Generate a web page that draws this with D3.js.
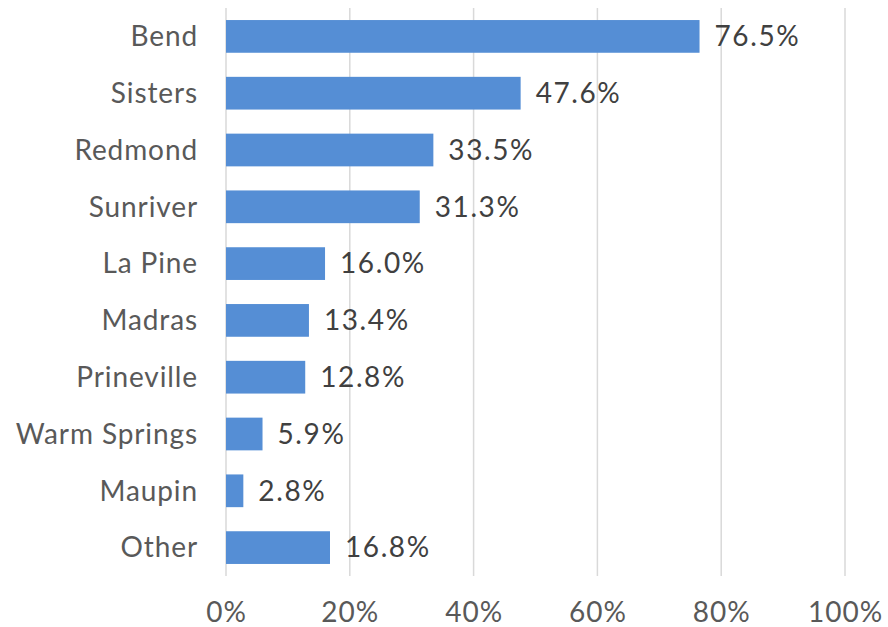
<!DOCTYPE html>
<html>
<head>
<meta charset="utf-8">
<script src="https://cdn.jsdelivr.net/npm/d3@7"></script>
<style>
  html, body { margin: 0; padding: 0; background: #fff; }
  svg { display: block; }
  text { font-family: Lato, "Open Sans", sans-serif; }
</style>
</head>
<body>
<svg id="chart" width="888" height="627"></svg>
<script>
// Share of respondents by community
const categories = ["Bend", "Sisters", "Redmond", "Sunriver", "La Pine", "Madras", "Prineville", "Warm Springs", "Maupin", "Other"];
const values = [76.5, 47.6, 33.5, 31.3, 16.0, 13.4, 12.8, 5.9, 2.8, 16.8];
const tickValues = [0, 20, 40, 60, 80, 100];

const svg = d3.select("#chart");
const margin = { top: 8, right: 43, bottom: 51, left: 226 };
const width = 888 - margin.left - margin.right;
const height = 627 - margin.top - margin.bottom;

const x = d3.scaleLinear().domain([0, 100]).range([0, width]);
const y = d3.scaleBand().domain(categories).range([0, height]).paddingInner(0.424).paddingOuter(0.212);

const g = svg.append("g").attr("transform", `translate(${margin.left},${margin.top})`);

// vertical gridlines
g.append("g")
  .selectAll("line")
  .data(tickValues)
  .join("line")
  .attr("x1", d => x(d)).attr("x2", d => x(d))
  .attr("y1", 0).attr("y2", height)
  .attr("stroke", "#d9d9d9")
  .attr("stroke-width", 1.5);

// x-axis labels
const xAxis = d3.axisBottom(x).tickValues(tickValues).tickFormat(d => d + "%").tickSize(0).tickPadding(0);
const ax = g.append("g").attr("transform", `translate(0,${height})`).call(xAxis);
ax.select(".domain").remove();
ax.selectAll("text")
  .attr("dy", null)
  .attr("y", 46)
  .attr("fill", "#595959")
  .style("font-size", "28px")
  .style("letter-spacing", "1px");

// category labels
const yAxis = d3.axisLeft(y).tickSize(0).tickPadding(28);
const ay = g.append("g").call(yAxis);
ay.select(".domain").remove();
ay.selectAll("text")
  .attr("fill", "#595959")
  .attr("dy", "0.35em")
  .style("font-size", "28px")
  .style("letter-spacing", "0.9px");

// bars
const rows = categories.map((c, i) => ({ c, v: values[i] }));
g.selectAll("rect.bar")
  .data(rows)
  .join("rect")
  .attr("class", "bar")
  .attr("x", 0)
  .attr("y", d => y(d.c))
  .attr("width", d => x(d.v))
  .attr("height", y.bandwidth())
  .attr("fill", "#558ed5");

// value labels
g.selectAll("text.val")
  .data(rows)
  .join("text")
  .attr("class", "val")
  .attr("x", d => x(d.v) + 15)
  .attr("y", d => y(d.c) + y.bandwidth() / 2)
  .attr("dy", "0.35em")
  .attr("fill", "#404040")
  .style("font-size", "28px")
  .style("letter-spacing", "1.6px")
  .text(d => d.v.toFixed(1) + "%");
</script>
</body>
</html>
